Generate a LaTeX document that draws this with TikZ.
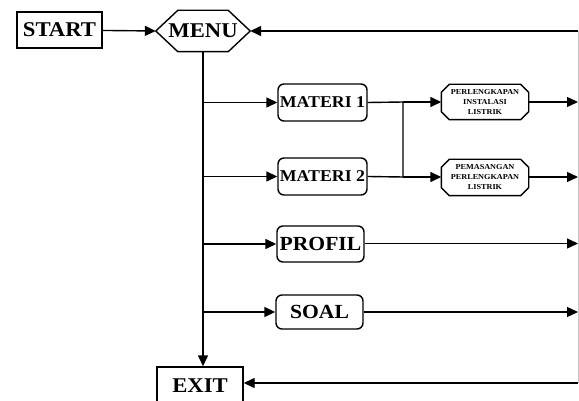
\documentclass[tikz,border=0pt]{standalone}
\usepackage{fontspec}
\setmainfont{Liberation Serif}[FakeStretch=1.08]
\usetikzlibrary{arrows.meta}
\begin{document}
\begin{tikzpicture}[x=1pt,y=-1pt,
  line width=1.4pt,
  arr/.style={-{Triangle[length=11pt,width=10pt]}},
  sqbox/.style={draw,rectangle,inner sep=0pt,font=\fontsize{21}{23}\selectfont\bfseries},
  rbox/.style={draw,rectangle,rounded corners=6pt,inner sep=0pt,font=\fontsize{20}{22}\selectfont\bfseries},
  mbox/.style={draw,rectangle,rounded corners=6pt,inner sep=0pt,font=\fontsize{16.5}{18}\selectfont\bfseries},
  hexbox/.style={rectangle,inner sep=0pt,font=\fontsize{21}{23}\selectfont\bfseries},
  chbox/.style={rectangle,inner sep=0pt,align=center,minimum width=86pt,font=\fontsize{7.6}{10}\selectfont\bfseries}
]
\useasboundingbox (0,0) rectangle (579,401);

\node[sqbox,minimum width=85pt,minimum height=36pt] (start) at (59.5,30) {START};
\node[hexbox,minimum width=93pt,minimum height=40pt] (menu) at (203,31) {MENU};
\node[mbox,minimum width=89pt,minimum height=37pt] (m1) at (322.5,102.5) {MATERI 1};
\node[mbox,minimum width=89pt,minimum height=37pt] (m2) at (322.5,176.5) {MATERI 2};
\node[rbox,minimum width=87pt,minimum height=36pt] (profil) at (320.5,244) {PROFIL};
\node[rbox,minimum width=87pt,minimum height=34pt] (soal) at (319.5,312) {SOAL};
\node[chbox,minimum height=34pt] (s1) at (485,102) {PERLENGKAPAN\\INSTALASI\\LISTRIK};
\node[chbox,minimum height=35pt] (s2) at (485,177.5) {PEMASANGAN\\PERLENGKAPAN\\LISTRIK};
\node[sqbox,minimum width=86pt,minimum height=44pt] (exit) at (200,389) {\raisebox{6pt}{EXIT}};

% hexagon outline of MENU
\draw[line join=miter] (menu.west) -- ([xshift=22pt]menu.north west) -- ([xshift=-22pt]menu.north east)
  -- (menu.east) -- ([xshift=-22pt]menu.south east) -- ([xshift=22pt]menu.south west) -- cycle;
% chamfered outlines
\foreach \n in {s1,s2}{
  \draw ([yshift=-8pt]\n.north west) -- ([xshift=8pt]\n.north west) -- ([xshift=-8pt]\n.north east)
    -- ([yshift=-8pt]\n.north east) -- ([yshift=8pt]\n.south east) -- ([xshift=-8pt]\n.south east)
    -- ([xshift=8pt]\n.south west) -- ([yshift=8pt]\n.south west) -- cycle;
}

\coordinate (J1) at (403,102);
\coordinate (J2) at (403,177);
\coordinate (R0) at (578,31);
\coordinate (R1) at (578,102);
\coordinate (R2) at (578,177);
\coordinate (R3) at (578,243.5);
\coordinate (R4) at (578,312);
\coordinate (R5) at (578,383);

% right edge line
\draw[gray!45,line width=0.8pt] (R0) -- (R5);

\draw[arr] (start) -- (menu.west);
\draw[arr] (R0) -- (menu.east);
\draw[arr] (menu.south) -- (menu.south |- exit.north);
\draw[arr] (menu.south |- m1.west) -- (m1.west);
\draw[arr] (menu.south |- m2.west) -- (m2.west);
\draw[arr] (menu.south |- profil.west) -- (profil.west);
\draw[arr] (menu.south |- soal.west) -- (soal.west);

\draw (m1.east) -- (J1) -- (J2) -- (m2.east);
\draw[arr] (J1) -- (J1 -| s1.west);
\draw[arr] (J2) -- (J2 -| s2.west);
\draw[arr] (s1.east |- R1) -- (R1);
\draw[arr] (s2.east |- R2) -- (R2);
\draw[arr] (profil.east |- R3) -- (R3);
\draw[arr] (soal.east |- R4) -- (R4);
\draw[arr] (R5) -- (R5 -| exit.east);
\end{tikzpicture}
\end{document}
